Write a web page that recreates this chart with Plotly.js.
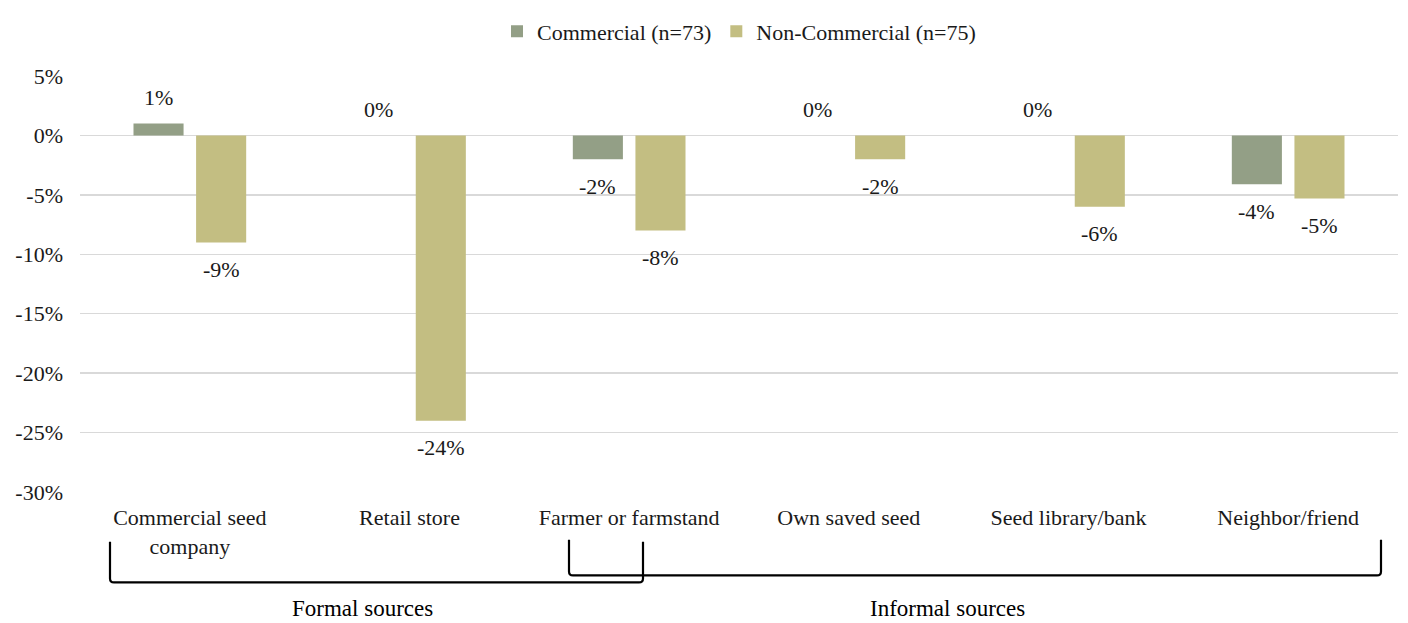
<!DOCTYPE html>
<html>
<head>
<meta charset="utf-8">
<script src="https://cdn.plot.ly/plotly-3.0.1.min.js"></script>
<style>html,body{margin:0;padding:0;background:#fff;}#chart{width:1408px;height:623px;}</style>
</head>
<body>
<div id="chart"></div>
<script>
const categories = ["Commercial seed<br>company", "Retail store", "Farmer or farmstand", "Own saved seed", "Seed library/bank", "Neighbor/friend"];
const commercialValues = [1, 0, -2, 0, 0, -4.1];
const nonCommercialValues = [-9, -24, -8, -2, -6, -5.3];
const seriesNames = ["Commercial (n=73)", "Non-Commercial (n=75)"];
const groupLabels = ["Formal sources", "Informal sources"];
const yTickVals = [5, 0, -5, -10, -15, -20, -25, -30];
const yTickText = yTickVals.map(v => v + "%");

const W = 1408, H = 623;
const M = {l: 80, r: 10, t: 73, b: 131};
const pw = W - M.l - M.r, ph = H - M.t - M.b;
const FONT = "'Liberation Serif', 'Times New Roman', serif";
const bargap = 0.43, bargroupgap = 0.2;
const colors = ["#939F86", "#C3BE82"];
const TXT = "#1a1a1a";
const FS = 22;

function px2x(px){ return (px - M.l) / pw; }
function px2y(py){ return (H - M.b - py) / ph; }

const traces = [commercialValues, nonCommercialValues].map((vals, i) => ({
  type: "bar", x: categories, y: vals, name: seriesNames[i],
  marker: {color: colors[i]}, hoverinfo: "skip"
}));

const catW = pw / categories.length;
const slot = catW * (1 - bargap) / 2;
const annotations = [];
[commercialValues, nonCommercialValues].forEach((vals, i) => {
  vals.forEach((v, j) => {
    annotations.push({
      x: categories[j], y: v, xref: "x", yref: "y", yanchor: "middle",
      text: Math.round(v) + "%", showarrow: false,
      xshift: (i === 0 ? -1 : 1) * slot / 2,
      yshift: v < 0 ? -27 : 26,
      font: {family: FONT, size: FS, color: TXT}
    });
  });
});

function bracket(x1, x2, yTop, yBot){
  const r = 4;
  const X1 = px2x(x1), X2 = px2x(x2);
  const rx = r / pw, ry = r / ph;
  const T = px2y(yTop), B = px2y(yBot);
  return {
    type: "path", xref: "paper", yref: "paper",
    path: `M ${X1},${T} L ${X1},${B + ry} Q ${X1},${B} ${X1 + rx},${B} L ${X2 - rx},${B} Q ${X2},${B} ${X2},${B + ry} L ${X2},${T}`,
    line: {color: "#000", width: 2.2}
  };
}
const shapes = [bracket(110, 643, 542, 583), bracket(569, 1381, 540, 576)];
annotations.push({x: px2x(362), y: px2y(609), xref: "paper", yref: "paper", xanchor: "center", yanchor: "middle", text: groupLabels[0], showarrow: false, font: {family: FONT, size: 23, color: "#000"}});
annotations.push({x: px2x(947), y: px2y(609), xref: "paper", yref: "paper", xanchor: "center", yanchor: "middle", text: groupLabels[1], showarrow: false, font: {family: FONT, size: 23, color: "#000"}});

const layout = {
  width: W, height: H, margin: M,
  paper_bgcolor: "#fff", plot_bgcolor: "#fff",
  barmode: "group", bargap: bargap, bargroupgap: bargroupgap,
  font: {family: FONT, size: FS, color: TXT},
  showlegend: true,
  legend: {orientation: "h", x: 0.5, xanchor: "center", y: px2y(7), yanchor: "top",
    font: {family: FONT, size: FS, color: TXT}, itemwidth: 30, traceorder: "normal"},
  xaxis: {type: "category", showgrid: false, showline: false, zeroline: false, ticks: "",
    tickfont: {family: FONT, size: FS, color: TXT}, ticklabelstandoff: 10, fixedrange: true},
  yaxis: {range: [-30, 5], tickmode: "array", tickvals: yTickVals, ticktext: yTickText, showgrid: true,
    gridcolor: "#d9d9d9", gridwidth: 1.5, zeroline: true, zerolinecolor: "#d9d9d9", zerolinewidth: 1.5,
    showline: false, ticks: "", ticklabelstandoff: 16,
    tickfont: {family: FONT, size: FS, color: TXT}, fixedrange: true},
  annotations: annotations, shapes: shapes
};

Plotly.newPlot("chart", traces, layout, {displayModeBar: false, staticPlot: true});
</script>
</body>
</html>
